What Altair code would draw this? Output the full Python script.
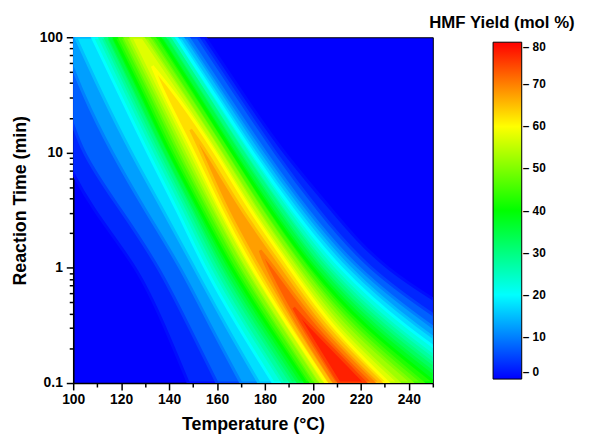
import altair as alt
import pandas as pd

X_LABEL = "Temperature (°C)"
Y_LABEL = "Reaction Time (min)"
LEGEND_TITLE = "HMF Yield (mol %)"

# reaction-time rows (min) at which the contour crossings were read
TIME_ROWS = [100, 31.6, 10, 3.16, 1, 0.316, 0.1]

# contour levels of HMF yield (mol %)
LEVELS = [1, 5, 10, 15, 20, 25, 30, 35, 40, 45, 50, 55, 60, 65, 70, 75]

# temperature (°C) where the yield rises through each level, per time row
RISE = {
    1:  [80, 85, 95, 108, 127, 138, 148],
    5:  [88, 96, 103, 120, 136, 148, 160],
    10: [95, 104, 116, 130, 145, 157, 170],
    15: [101, 112, 124, 137.5, 150.5, 163.5, 177.5],
    20: [108, 119.5, 131, 143.5, 154.6, 168.5, 183.5],
    25: [111, 122.5, 134, 146.5, 157.7, 172, 187.5],
    30: [113.3, 125, 136.5, 149, 160.5, 175.3, 191],
    35: [115.2, 127, 138.3, 151, 163, 178.3, 194],
    40: [117, 129, 140, 153, 165.6, 181, 197],
    45: [119.3, 131.3, 142.5, 155.3, 168, 183.5, 199.3],
    50: [121.5, 133.5, 145, 157.5, 170.3, 185.7, 201.5],
    55: [124, 135.8, 147.7, 159.5, 172.4, 187.8, 203.5],
    60: [None, 138, 150.5, 161.5, 174.5, 189.5, 205.5],
    65: [None, None, 153.5, 164, 177.5, 191.5, 207.2],
    70: [None, None, None, None, 180.5, 193.5, 209],
    75: [None, None, None, None, None, 196, 211],
}

# temperature (°C) where the yield falls back through each level, per time row
FALL = {
    1:  [155, 171, 187.5, 208, 228, 268, 310],
    5:  [152, 168, 184, 202, 222, 256, 295],
    10: [148, 164, 180, 197.5, 217.5, 248, 285],
    15: [145.5, 161.5, 177, 194.5, 214, 242, 278],
    20: [143, 159, 174.5, 191.5, 210.5, 237, 272],
    25: [141.5, 157, 172.5, 189, 207, 232.5, 266],
    30: [140, 155.5, 170.5, 187, 204, 228.5, 261],
    35: [138, 153.5, 168.5, 184.5, 201.5, 224.5, 256],
    40: [136, 151.5, 166.5, 182, 199, 220.5, 251],
    45: [133.8, 149.5, 165, 180, 197, 217, 246],
    50: [131.5, 147.5, 163.3, 178, 195, 213.5, 241.5],
    55: [129, 145.5, 161.5, 175.8, 192.8, 210, 236],
    60: [None, 143, 159.5, 173.5, 190.5, 207, 231.5],
    65: [None, None, 156, 170, 187.5, 204, 228.5],
    70: [None, None, None, None, 184, 201, 225.5],
    75: [None, None, None, None, None, 198.5, 222],
}

# where the higher levels close off along the ridge
TIP_TIME = {60: 56.2, 65: 15.8, 70: 1.41, 75: 0.45}
TIP_TEMP = {60: 133, 65: 149, 70: 178, 75: 192}

X_TICKS = [100, 120, 140, 160, 180, 200, 220, 240]
X_MINOR = [110, 130, 150, 170, 190, 210, 230, 250]
Y_TICKS = [0.1, 1, 10, 100]
Y_MINOR = [0.2, 0.3, 0.4, 0.5, 0.6, 0.7, 0.8, 0.9,
           2, 3, 4, 5, 6, 7, 8, 9,
           20, 30, 40, 50, 60, 70, 80, 90]
CBAR_TICKS = [0, 10, 20, 30, 40, 50, 60, 70, 80]
JET_STOPS = [0, 20, 40, 60, 80]
JET_COLORS = ["#0000ff", "#00ffff", "#00ff00", "#ffff00", "#ff0000"]

FONT = "Liberation Sans"

records = []
for i, lev in enumerate(LEVELS):
    upper = LEVELS[i + 1] if i + 1 < len(LEVELS) else 80
    mid = (lev + upper) / 2
    for j, t in enumerate(TIME_ROWS):
        if RISE[lev][j] is not None:
            records.append({"level": lev, "mid": mid, "t": t,
                            "lo": RISE[lev][j], "hi": FALL[lev][j]})
    if lev in TIP_TIME:
        records.append({"level": lev, "mid": mid, "t": TIP_TIME[lev],
                        "lo": TIP_TEMP[lev], "hi": TIP_TEMP[lev]})
bands = pd.DataFrame(records)

x_scale = alt.Scale(domain=[100, 250], nice=False, zero=False)
y_scale = alt.Scale(type="log", domain=[0.1, 100], nice=False)
c_scale = alt.Scale(domain=JET_STOPS, range=JET_COLORS, interpolate="rgb")
# same colour ramp for the soft contour edges (own domain list so the
# edge scale keeps out of the colour bar)
s_scale = alt.Scale(domain=JET_STOPS[:-1] + [80.001], range=JET_COLORS,
                    interpolate="rgb")

x_axis = alt.Axis(values=X_TICKS, title=X_LABEL, orient="bottom", tickSize=7,
                  labelPadding=3, labelFlush=False, titleX=182, titleY=42,
                  titleBaseline="middle")
y_axis = alt.Axis(values=Y_TICKS, format="~g", title=Y_LABEL, orient="left",
                  tickSize=7, labelPadding=4, titleX=-53, titleY=165,
                  titleBaseline="middle", titleAngle=270)
legend = alt.Legend(type="gradient", title=None, orient="none", legendX=425,
                    legendY=5, direction="vertical", gradientLength=341,
                    gradientThickness=29, values=CBAR_TICKS,
                    labelExpr="'\u2013 ' + datum.label",
                    labelFontSize=12, labelFontWeight="bold", labelFont=FONT,
                    labelColor="black", labelOffset=1,
                    gradientStrokeColor="black", gradientStrokeWidth=1)

layers = []
for lev in LEVELS:
    layers.append(
        alt.Chart(bands[bands["level"] == lev])
        .mark_area(orient="horizontal", interpolate="basis", clip=True,
                   strokeWidth=3)
        .encode(
            y=alt.Y("t:Q", scale=y_scale, axis=y_axis),
            x=alt.X("lo:Q", scale=x_scale, axis=x_axis),
            x2="hi:Q",
            color=alt.Color("mid:Q", scale=c_scale, legend=legend),
            stroke=alt.Stroke("level:Q", scale=s_scale, legend=None),
        )
    )
areas = alt.layer(*layers)

minor = (
    alt.Chart(pd.DataFrame({"T": [150], "t": [1]}))
    .mark_point(opacity=0)
    .encode(
        x=alt.X("T:Q", scale=x_scale,
                axis=alt.Axis(values=X_MINOR, labels=False, tickSize=4,
                              domain=False, title=None, orient="bottom")),
        y=alt.Y("t:Q", scale=y_scale,
                axis=alt.Axis(values=Y_MINOR, labels=False, tickSize=4,
                              domain=False, title=None, orient="left")),
    )
)

ltitle = (
    alt.Chart(pd.DataFrame({"label": [LEGEND_TITLE]}))
    .mark_text(font=FONT, fontSize=17, fontWeight="bold", color="black",
               align="center", baseline="middle")
    .encode(text="label:N", x=alt.value(434), y=alt.value(-14))
)

chart = (
    alt.layer(areas, minor, ltitle)
    .resolve_axis(x="independent", y="independent")
    .properties(
        width=364, height=350,
        autosize=alt.AutoSizeParams(type="none"),
        padding={"left": 66, "top": 27, "right": 150, "bottom": 51},
    )
    .configure_view(stroke="black", strokeWidth=1, fill="#0000ff")
    .configure_axis(
        grid=False, domainColor="black", domainWidth=1.5, tickColor="black",
        tickWidth=1.5, labelFont=FONT, labelFontSize=14, labelFontWeight="bold",
        labelColor="black", titleFont=FONT, titleFontSize=18,
        titleFontWeight="bold", titleColor="black",
    )
)

chart.save("out.html", embed_options={"renderer": "svg", "actions": False})
